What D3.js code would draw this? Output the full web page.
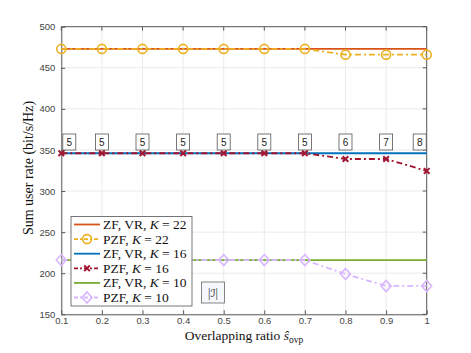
<!DOCTYPE html>
<html><head><meta charset="utf-8">
<script src="https://cdn.jsdelivr.net/npm/d3@7"></script>
<style>body{margin:0;background:#fff}svg{display:block}</style>
</head><body><div id="chart"></div>
<script>
const ratios = [0.1,0.2,0.3,0.4,0.5,0.6,0.7,0.8,0.9,1.0];
const zf22  = [473,473,473,473,473,473,473,473,473,473];
const pzf22 = [473,473,473,473,473,473,473,466,466,466];
const zf16  = [346,346,346,346,346,346,346,346,346,346];
const pzf16 = [346,346,346,346,346,346,346,339,339,324.5];
const zf10  = [216,216,216,216,216,216,216,216,216,216];
const pzf10 = [216,216,216,216,216,216,216,199,184.5,184.5];
const setSizes = [5,5,5,5,5,5,5,6,7,8];
const xTicks = [0.1,0.2,0.3,0.4,0.5,0.6,0.7,0.8,0.9,1];
const yTicks = [150,200,250,300,350,400,450,500];

const W=471,H=353;
const L=61.3,R=426.7,T=26.7,B=314.3;
const svg=d3.select("#chart").append("svg").attr("width",W).attr("height",H);
const x=d3.scaleLinear().domain([0.1,1]).range([L,R]);
const y=d3.scaleLinear().domain([150,500]).range([B,T]);
const serif="'Liberation Serif','Times New Roman',serif";
const sans="'Liberation Sans',Arial,sans-serif";

// grid
const g=svg.append("g");
g.selectAll(".gx").data(xTicks).enter().append("line")
 .attr("x1",d=>x(d)).attr("x2",d=>x(d)).attr("y1",T).attr("y2",B)
 .attr("stroke","#ebebeb").attr("stroke-width",1);
g.selectAll(".gy").data(yTicks).enter().append("line")
 .attr("y1",d=>y(d)).attr("y2",d=>y(d)).attr("x1",L).attr("x2",R)
 .attr("stroke","#ebebeb").attr("stroke-width",1);

// axes
const axCol="#5a5a5a";
const xa=svg.append("g").attr("transform",`translate(0,${B})`)
 .call(d3.axisBottom(x).tickValues(xTicks).tickSize(-4).tickSizeOuter(0).tickPadding(3).tickFormat(d=>d===1?"1":d3.format(".1f")(d)));
const ya=svg.append("g").attr("transform",`translate(${L},0)`)
 .call(d3.axisLeft(y).tickValues(yTicks).tickSize(-4).tickSizeOuter(0).tickPadding(6));
[xa,ya].forEach(a=>{a.select(".domain").attr("stroke",axCol);a.selectAll("line").attr("stroke",axCol);
 a.selectAll("text").attr("fill","#444").style("font-family",sans).style("font-size","9.5px");});
// top and right box
svg.append("line").attr("x1",L).attr("x2",R).attr("y1",T).attr("y2",T).attr("stroke",axCol);
svg.append("line").attr("x1",R).attr("x2",R).attr("y1",T).attr("y2",B).attr("stroke",axCol);
svg.append("g").selectAll("line").data(xTicks).enter().append("line")
 .attr("x1",d=>x(d)).attr("x2",d=>x(d)).attr("y1",T).attr("y2",T+4).attr("stroke",axCol);
svg.append("g").selectAll("line").data(yTicks).enter().append("line")
 .attr("x1",R-4).attr("x2",R).attr("y1",d=>y(d)).attr("y2",d=>y(d)).attr("stroke",axCol);

const series=[
 {name:"ZF, VR, ",k:"22",vals:zf22,color:"#D95319",dash:null,marker:null},
 {name:"PZF, ",k:"22",vals:pzf22,color:"#EDB120",dash:"6,3,2,3",marker:"circle"},
 {name:"ZF, VR, ",k:"16",vals:zf16,color:"#0072BD",dash:null,marker:null},
 {name:"PZF, ",k:"16",vals:pzf16,color:"#A2142F",dash:"6,3,2,3",marker:"x"},
 {name:"ZF, VR, ",k:"10",vals:zf10,color:"#77AC30",dash:null,marker:null},
 {name:"PZF, ",k:"10",vals:pzf10,color:"#D9B6FF",dash:"6,3,2,3",marker:"diamond"}
];
const line=d3.line().x((d,i)=>x(ratios[i])).y(d=>y(d));
function drawMarker(sel,type,color){
 if(type==="circle") sel.append("circle").attr("r",4.5).attr("fill","none").attr("stroke",color).attr("stroke-width",1.6);
 else if(type==="diamond") sel.append("path").attr("d","M0,-5.5L5,0L0,5.5L-5,0Z").attr("fill","none").attr("stroke",color).attr("stroke-width",1.6);
 else if(type==="x") sel.append("path").attr("d","M-2.8,-2.8L2.8,2.8M-2.8,2.8L2.8,-2.8").attr("fill","none").attr("stroke",color).attr("stroke-width",2);
}
const order=[0,2,4,1,3,5];
order.forEach(si=>{
 const s=series[si];
 svg.append("path").datum(s.vals).attr("d",line).attr("fill","none")
  .attr("stroke",s.color).attr("stroke-width",1.8).attr("stroke-dasharray",s.dash);
 if(s.marker){
  s.vals.forEach((v,i)=>{
   const m=svg.append("g").attr("transform",`translate(${x(ratios[i])},${y(v)})`);
   drawMarker(m,s.marker,s.color);
  });
 }
});

// |I| set size boxes
const lab=svg.append("g");
setSizes.forEach((n,i)=>{
 const cx=Math.min(Math.max(x(ratios[i]),L+8),R-7);
 const cy=142;
 lab.append("rect").attr("x",cx-6.5).attr("y",cy-8).attr("width",13).attr("height",16)
  .attr("fill","#fff").attr("stroke","#555").attr("stroke-width",0.8);
 lab.append("text").attr("x",cx).attr("y",cy+3.5).attr("text-anchor","middle")
  .style("font-family",sans).style("font-size","10px").attr("fill","#222").text(n);
});

// legend
const lg=svg.append("g");
lg.append("rect").attr("x",71).attr("y",216.5).attr("width",121).attr("height",89.5)
 .attr("fill","#fff").attr("stroke","#555").attr("stroke-width",0.8);
series.forEach((s,i)=>{
 const yy=224.5+i*14.6;
 lg.append("line").attr("x1",74).attr("x2",100).attr("y1",yy).attr("y2",yy)
  .attr("stroke",s.color).attr("stroke-width",1.8).attr("stroke-dasharray",s.dash?"4,2,2,2":null);
 if(s.marker){const m=lg.append("g").attr("transform",`translate(87,${yy})`);drawMarker(m,s.marker,s.color);}
 const t=lg.append("text").attr("x",103).attr("y",yy+4.5).style("font-family",serif).style("font-size","13.5px").attr("fill","#111");
 t.append("tspan").text(s.name);
 t.append("tspan").style("font-style","italic").text("K");
 t.append("tspan").text(" = "+s.k);
});

// |I| annotation box
svg.append("rect").attr("x",201.5).attr("y",282).attr("width",23).attr("height",21)
 .attr("fill","#f4f7fb").attr("stroke","#666").attr("stroke-width",0.8);
const it=svg.append("text").attr("x",213).attr("y",297).attr("text-anchor","middle")
 .style("font-family",serif).style("font-size","12px").attr("fill","#222");
it.append("tspan").text("|");
it.append("tspan").style("font-family","'DejaVu Sans',serif").style("font-size","11px").text("ℐ");
it.append("tspan").text("|");

// axis labels
const xl=svg.append("text").attr("x",244).attr("y",339.5).attr("text-anchor","middle")
 .style("font-family",serif).style("font-size","13.5px").attr("fill","#111");
xl.append("tspan").text("Overlapping ratio ");
xl.append("tspan").style("font-style","italic").text("ŝ");
xl.append("tspan").attr("dy",3).style("font-size","9.5px").text("ovp");
svg.append("text").attr("transform","translate(33,168) rotate(-90)").attr("text-anchor","middle")
 .style("font-family",serif).style("font-size","14px").attr("fill","#111")
 .text("Sum user rate (bit/s/Hz)");
</script></body></html>
